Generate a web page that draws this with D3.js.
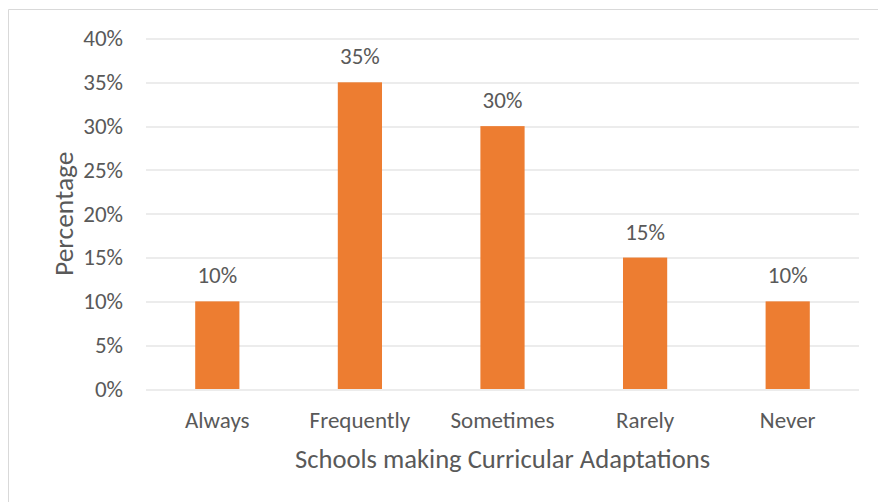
<!DOCTYPE html>
<html>
<head>
<meta charset="utf-8">
<script src="https://cdn.jsdelivr.net/npm/d3@7"></script>
<style>
  html, body { margin: 0; padding: 0; background: #ffffff; }
  svg text { font-family: Carlito, Calibri, Lato, sans-serif; fill: #595959; }
</style>
</head>
<body>
<svg id="chart" width="878" height="502"></svg>
<script>
// Share of schools making curricular adaptations, by frequency
const categories = ["Always", "Frequently", "Sometimes", "Rarely", "Never"];
const percentages = [10, 35, 30, 15, 10];
const yTicks = [0, 5, 10, 15, 20, 25, 30, 35, 40];
const xTitle = "Schools making Curricular Adaptations";
const yTitle = "Percentage";

const svg = d3.select("#chart");
const W = 878, H = 502;
const margin = { left: 146, right: 19, top: 38.5, bottom: 113 };
const plotW = W - margin.left - margin.right;
const plotH = H - margin.top - margin.bottom;
const FONT = "Carlito, Calibri, Lato, sans-serif";

// chart frame (top and left edges)
svg.append("line")
  .attr("x1", 8.5).attr("x2", W).attr("y1", 9.5).attr("y2", 9.5)
  .attr("stroke", "#d9d9d9").attr("stroke-width", 1);
svg.append("line")
  .attr("x1", 8.5).attr("x2", 8.5).attr("y1", 9.5).attr("y2", H)
  .attr("stroke", "#d9d9d9").attr("stroke-width", 1);

const g = svg.append("g").attr("transform", `translate(${margin.left},${margin.top})`);

const x = d3.scaleBand().domain(categories).range([0, plotW]).padding(0);
const y = d3.scaleLinear().domain([0, 40]).range([plotH, 0]);
const barW = x.bandwidth() * 0.31;

// horizontal gridlines
g.append("g").selectAll("line").data(yTicks).join("line")
  .attr("x1", 0).attr("x2", plotW)
  .attr("y1", d => Math.round(y(d)) + 0.5).attr("y2", d => Math.round(y(d)) + 0.5)
  .attr("stroke", "#d9d9d9").attr("stroke-width", 1);

// y axis tick labels
const yAxis = d3.axisLeft(y).tickValues(yTicks).tickFormat(d => d + "%").tickSize(0).tickPadding(23);
const ya = g.append("g").call(yAxis);
ya.select(".domain").remove();
ya.selectAll("text").style("font-size", "23px").attr("fill", "#595959")
  .style("font-family", FONT);

// bars
g.append("g").selectAll("rect").data(percentages).join("rect")
  .attr("x", (d, i) => x(categories[i]) + (x.bandwidth() - barW) / 2)
  .attr("y", d => y(d))
  .attr("width", barW)
  .attr("height", d => plotH - y(d))
  .attr("fill", "#ED7D31");

// value labels
g.append("g").selectAll("text").data(percentages).join("text")
  .attr("x", (d, i) => x(categories[i]) + x.bandwidth() / 2)
  .attr("y", d => y(d) - 18)
  .attr("text-anchor", "middle")
  .style("font-size", "23px")
  .text(d => d + "%");

// x axis category labels
const xAxis = d3.axisBottom(x).tickSize(0).tickPadding(22.5);
const xa = g.append("g").attr("transform", `translate(0,${plotH})`).call(xAxis);
xa.select(".domain").remove();
xa.selectAll("text").style("font-size", "23px").attr("fill", "#595959")
  .style("font-family", FONT);

// axis titles
svg.append("text")
  .attr("x", margin.left + plotW / 2)
  .attr("y", 468)
  .attr("text-anchor", "middle")
  .style("font-size", "26.6px")
  .text(xTitle);

svg.append("text")
  .attr("transform", `translate(73,${margin.top + plotH / 2}) rotate(-90)`)
  .attr("text-anchor", "middle")
  .style("font-size", "27.5px")
  .text(yTitle);
</script>
</body>
</html>
